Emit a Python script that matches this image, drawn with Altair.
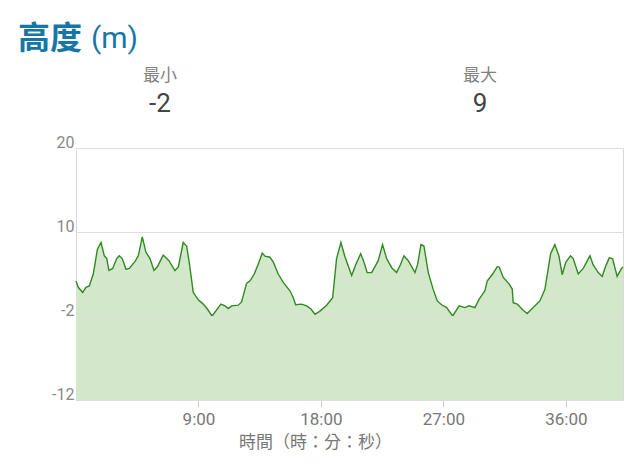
import altair as alt
import pandas as pd

# elapsed time in minutes
minutes = [0.0, 0.17, 0.49, 0.73, 0.98, 1.27, 1.57, 1.84, 2.08, 2.26, 2.42, 2.70, 2.99, 3.18, 3.40,
           3.67, 3.92, 4.34, 4.58, 4.87, 5.14, 5.44, 5.73, 5.97, 6.41, 6.83, 7.27, 7.52, 7.88, 8.13,
           8.32, 8.62, 8.99, 9.35, 9.65, 10.0, 10.65, 10.95, 11.19, 11.44, 11.93, 12.17, 12.54, 12.78,
           13.10, 13.39, 13.69, 13.89, 14.25, 14.50, 14.86, 15.23, 15.72, 15.97, 16.14, 16.58, 16.95,
           17.27, 17.56, 17.93, 18.42, 18.86, 19.15, 19.47, 19.76, 20.26, 20.57, 20.92, 21.16, 21.40,
           21.73, 22.21, 22.53, 22.83, 23.20, 23.56, 23.86, 24.10, 24.42, 24.91, 25.11, 25.35, 25.57,
           25.89, 26.25, 26.55, 26.87, 27.24, 27.68, 28.16, 28.58, 28.90, 29.32, 29.63, 30.05, 30.22,
           30.62, 30.96, 31.10, 31.40, 31.84, 32.06, 32.13, 32.43, 32.82, 33.16, 33.60, 34.09, 34.46,
           34.88, 35.19, 35.49, 35.73, 36.00, 36.35, 36.54, 36.91, 37.28, 37.77, 38.01, 38.38, 38.67,
           38.94, 39.19, 39.43, 39.77, 40.09, 40.2]
elevation = [3.0, 2.1, 1.35, 2.1, 2.3, 4.0, 7.5, 8.5, 6.6, 6.2, 4.5, 4.8, 6.2, 6.6, 6.2,
             4.7, 4.8, 5.8, 6.6, 9.3, 7.1, 6.2, 4.5, 5.0, 6.7, 5.9, 4.5, 5.0, 8.5, 8.0,
             5.7, 1.35, 0.3, -0.3, -1.0, -2.0, -0.3, -0.55, -0.95, -0.55, -0.45, 0.0, 2.7, 3.0,
             4.0, 5.4, 7.0, 6.55, 6.4, 5.7, 4.0, 2.8, 1.6, 0.6, -0.4, -0.3, -0.55,
             -1.0, -1.75, -1.3, -0.45, 0.6, 6.2, 8.5, 6.5, 3.8, 5.4, 6.9, 5.7, 4.2,
             4.2, 5.9, 8.2, 6.2, 4.9, 4.2, 5.4, 6.6, 5.9, 4.2, 5.4, 8.2, 8.0,
             4.2, 1.8, 0.15, -0.4, -0.8, -2.0, -0.55, -0.8, -0.55, -0.8, 0.4, 1.6, 3.0,
             4.0, 5.05, 5.0, 3.5, 2.55, 1.85, -0.1, -0.3, -1.1, -1.65, -0.8, 0.15, 1.8,
             6.9, 8.2, 6.6, 3.9, 5.7, 6.6, 6.2, 4.0, 4.8, 6.6, 5.3, 4.2, 3.65,
             5.2, 6.3, 6.2, 3.65, 4.8, 5.0]

y_ticks = [-12, -2, 10, 20]
x_ticks = [9, 18, 27, 36]

title_main = "高度"
title_unit = "(m)"
min_label = "最小"
max_label = "最大"
x_title = "時間（時：分：秒）"

W, H = 547, 252
FONT = "Roboto, Noto Sans CJK TC, sans-serif"
CJK = "Noto Sans CJK TC, sans-serif"

df = pd.DataFrame({"t": minutes, "e": elevation})

base = alt.Chart(df)

area = base.mark_area(
    color="#d3e8cb", opacity=1,
    line={"color": "#2f8a1f", "strokeWidth": 1.4},
).encode(
    x=alt.X("t:Q", scale=alt.Scale(domain=[0, 40.2], nice=False, zero=False),
            axis=alt.Axis(values=x_ticks, labelExpr="datum.value + ':00'", grid=False,
                          domainColor="#cccccc", tickColor="#cccccc", tickSize=7,
                          labelColor="#777777", labelFontSize=17, labelFont=FONT, labelPadding=4,
                          title=x_title, titleFont=CJK, titleFontSize=17, titleColor="#777777",
                          titleFontWeight="normal", titleX=239, titleY=47, titleAlign="center",
                          titleBaseline="alphabetic")),
    y=alt.Y("e:Q", scale=alt.Scale(domain=y_ticks, range=[H, 2 * H / 3, H / 3, 0], zero=False, nice=False),
            axis=alt.Axis(values=y_ticks, grid=True, gridColor="#dddddd", domain=False, ticks=False,
                          labelExpr="'' + datum.value",
                          labelBaseline="alphabetic", labelOffset=-1, labelPadding=2,
                          labelColor="#888888", labelFontSize=16, labelFont=FONT, title=None,
                          zindex=1)),
    y2=alt.datum(-12),
)

def txt(label, x, y, size, color, weight="normal", align="left", font=FONT):
    return alt.Chart(pd.DataFrame({"s": [label]})).mark_text(
        align=align, baseline="alphabetic", fontSize=size, color=color,
        fontWeight=weight, font=font,
    ).encode(text="s:N", x=alt.value(x), y=alt.value(y))

mn = round(min(elevation))
mx = round(max(elevation))

layers = [
    area,
    txt(title_main, -58, -99, 32, "#1677a6", "bold", font=CJK),
    txt(title_unit, 15, -100, 30, "#1677a6"),
    txt(min_label, 84, -67, 17, "#808080", align="center", font=CJK),
    txt(str(mn), 84, -36, 26, "#444444", align="center"),
    txt(max_label, 404, -67, 17, "#808080", align="center", font=CJK),
    txt(str(mx), 404, -36, 26, "#444444", align="center"),
]

chart = alt.layer(*layers).properties(
    width=W, height=H,
    autosize=alt.AutoSizeParams(type="none"),
    padding={"left": 68, "top": 140, "right": 9, "bottom": 62},
).configure_view(stroke="#d9d9d9", strokeWidth=1)

chart.save("out.html", embed_options={"renderer": "svg", "actions": False})
